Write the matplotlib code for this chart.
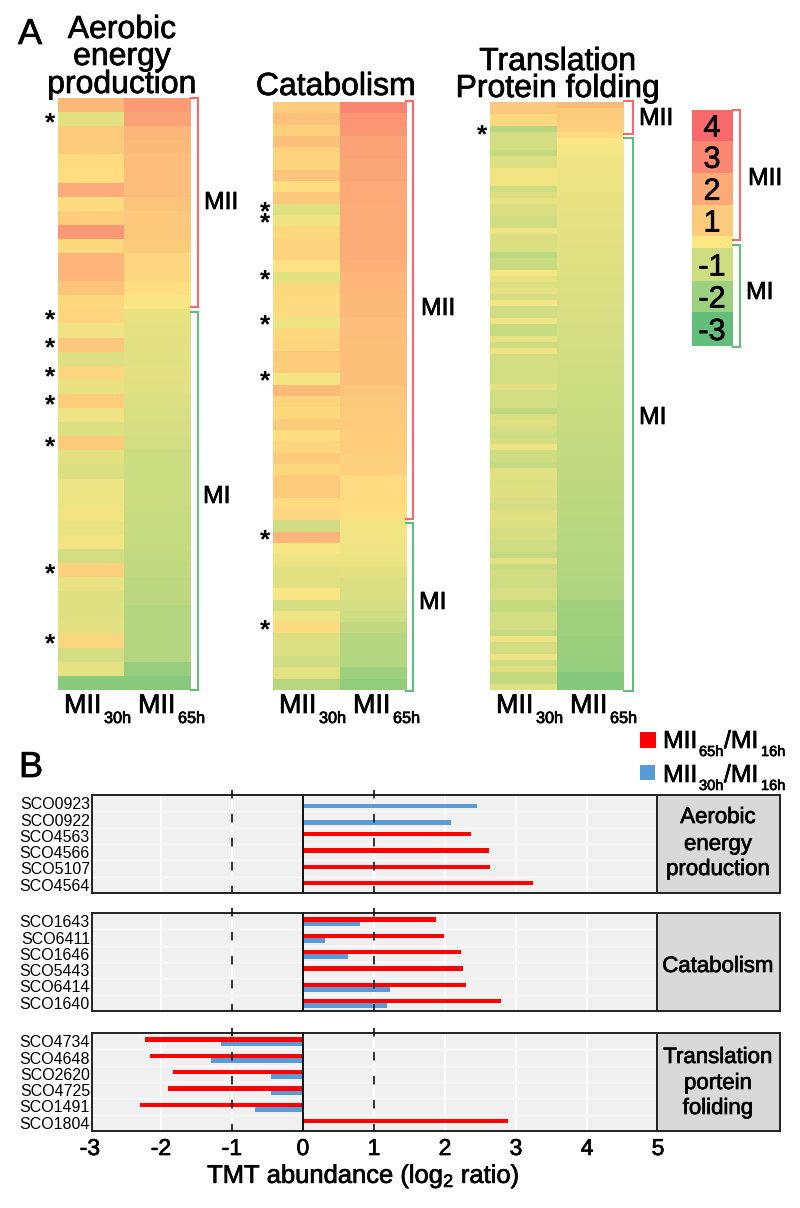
import numpy as np
from matplotlib import pyplot as plt
from matplotlib import patheffects
from matplotlib.colors import LinearSegmentedColormap

plt.rcParams['font.family'] = ['Liberation Sans', 'DejaVu Sans']
plt.rcParams['axes.unicode_minus'] = False
plt.rcParams['mathtext.default'] = 'regular'

# heatmap values, top row first
aero_30h = [1.5, -0.55, 1.0, 1.0, 0.4, 0.3, 1.9, 0.4, 0.9, 2.5, 0.5, 1.7, 1.7, 1.2,
            0.5, 0.6, -0.3, 1.1, -0.7, 0.6, -0.45, 0.9, -0.3, -0.7, 1.0, -0.55,
            -0.75, -0.4, -0.4, -0.25, -0.45, -0.25, -0.9, 0.8, -0.45, -0.65, -0.65,
            -0.55, 0.6, -0.9, -0.5, -2.35]
aero_65h = [2.4, 2.2, 1.6, 1.5, 1.4, 1.4, 1.4, 1.2, 1.1, 1.1, 1.0, 0.6, 0.6, 0.3,
            -0.15, -0.45, -0.5, -0.6, -0.6, -0.55, -0.6, -0.7, -0.8, -0.85, -0.9,
            -1.05, -1.05, -1.05, -1.05, -1.1, -1.15, -1.15, -1.2, -1.3, -1.4, -1.4,
            -1.55, -1.55, -1.55, -1.55, -2.1, -2.35]
cata_30h = [0.9, 1.3, 0.8, 1.3, 0.7, 0.7, 1.2, 0.3, 1.1, -0.65, -0.3, 0.5, 0.7, 0.7,
            0.2, -0.55, 0.5, 0.4, 0.4, -0.35, 0.5, 0.6, 1.0, 0.9, -0.25, 1.5, 0.7,
            0.5, 1.0, 0.3, 0.6, 1.0, 0.5, 1.0, 1.0, 0.4, 0.6, -0.95, 1.6, -0.15,
            -0.35, -0.6, -0.6, -0.15, -0.85, -0.3, 0.4, -0.7, -0.7, -0.95, -0.55, -1.5]
cata_65h = [3.0, 2.6, 2.5, 2.2, 2.2, 2.1, 2.1, 2.0, 2.0, 1.9, 1.9, 1.9, 1.9, 1.9, 1.8,
            1.6, 1.6, 1.5, 1.5, 1.4, 1.4, 1.3, 1.3, 1.3, 1.3, 1.2, 1.1, 1.0, 1.0, 0.9,
            0.9, 0.8, 0.8, 0.4, 0.4, 0.4, 0.3, -0.25, -0.25, -0.3, -0.4, -0.55, -0.75,
            -0.75, -0.85, -1.0, -1.3, -1.55, -1.55, -1.55, -2.0, -2.2]
trans_30h = [1.1, 1.1, 0.5, 0.5, -1.4, -0.9, -0.9, -0.9, -1.25, -0.7, -0.7, -0.25,
             -0.25, -0.25, -1.0, -0.75, -0.45, -0.75, -0.75, -0.95, -0.95, -0.3, -0.75,
             -0.75, -0.75, -1.4, -1.1, -1.1, -0.2, -0.45, -0.75, -0.45, -0.85, -0.2,
             -0.95, -0.95, -0.3, -1.15, -1.15, -0.45, -1.0, -0.3, -0.9, -0.9, -0.9,
             -0.9, -0.9, -0.55, -0.9, -0.9, -0.9, -1.35, -0.75, -0.65, -0.85, -1.0,
             -0.85, -0.3, -1.0, -1.0, -1.25, -0.6, -0.6, -0.7, -0.65, -0.65, -0.8,
             -0.9, -0.65, -0.6, -0.7, -0.9, -0.8, -1.0, -0.9, -1.2, -0.55, -1.1,
             -0.9, -1.0, -1.0, -0.8, -0.8, -1.1, -1.2, -0.9, -0.9, -0.9, -1.2,
             -0.3, -0.9, -0.9, -0.3, -1.0, -0.65, -1.2, -1.2, -0.65]
trans_65h = [1.5, 1.0, 1.0, 0.9, 0.8, 0.4, -0.05, -0.1, -0.2, -0.3, -0.3, -0.35, -0.35,
             -0.4, -0.4, -0.45, -0.45, -0.45, -0.5, -0.5, -0.5, -0.55, -0.55, -0.55,
             -0.6, -0.6, -0.6, -0.65, -0.65, -0.7, -0.7, -0.7, -0.75, -0.75, -0.8,
             -0.8, -0.8, -0.85, -0.85, -0.9, -0.9, -0.95, -0.95, -0.95, -1.0, -1.0,
             -1.0, -1.05, -1.05, -1.05, -1.1, -1.1, -1.1, -1.15, -1.15, -1.15, -1.2,
             -1.2, -1.25, -1.25, -1.3, -1.3, -1.3, -1.35, -1.35, -1.35, -1.4, -1.4,
             -1.4, -1.45, -1.45, -1.45, -1.5, -1.5, -1.5, -1.55, -1.55, -1.55, -1.6,
             -1.6, -1.65, -1.65, -1.7, -1.95, -1.95, -2.0, -2.0, -2.0, -2.0, -2.05,
             -2.05, -2.05, -2.1, -2.1, -2.1, -2.4, -2.4, -2.4]

aero_stars = [1, 15, 17, 19, 21, 24, 33, 38]
cata_stars = [9, 10, 15, 19, 24, 38, 46]
trans_stars = [5]

legend_values = [4, 3, 2, 1, 0, -1, -2, -3]
legend_labels = ['4', '3', '2', '1', '', '-1', '-2', '-3']

# panel B
genes_aero = ['SCO0923', 'SCO0922', 'SCO4563', 'SCO4566', 'SCO5107', 'SCO4564']
red_aero = [0, 0, 2.36, 2.62, 2.64, 3.24]
blue_aero = [2.455, 2.085, 0, 0, 0, 0]
genes_cata = ['SCO1643', 'SCO6411', 'SCO1646', 'SCO5443', 'SCO6414', 'SCO1640']
red_cata = [1.87, 1.99, 2.23, 2.25, 2.30, 2.79]
blue_cata = [0.81, 0.31, 0.63, 0, 1.225, 1.19]
genes_trans = ['SCO4734', 'SCO4648', 'SCO2620', 'SCO4725', 'SCO1491', 'SCO1804']
red_trans = [-2.22, -2.16, -1.83, -1.90, -2.30, 2.89]
blue_trans = [-1.155, -1.29, -0.45, -0.45, -0.67, 0]
x_ticks = [-3, -2, -1, 0, 1, 2, 3, 4, 5]

W, H = 800, 1208
RED = '#F8696B'
GREEN = '#63BE7B'
heat_cmap = LinearSegmentedColormap.from_list('heat', [
    (0 / 7, '#63BE7B'), (1 / 7, '#9FD17F'), (2 / 7, '#CFDD82'), (3 / 7, '#FFE784'),
    (4 / 7, '#FDCB7C'), (5 / 7, '#FCAA78'), (6 / 7, '#FA8771'), (7 / 7, '#F8696B')])
# the original type is a bit heavier than plain Liberation Sans
heavy = [patheffects.withStroke(linewidth=0.5, foreground='black')]

fig = plt.figure(figsize=(W / 100, H / 100), dpi=100)


def px_axes(x0, y0, x1, y1):
    return fig.add_axes([x0 / W, 1 - y1 / H, (x1 - x0) / W, (y1 - y0) / H])


over = fig.add_axes([0, 0, 1, 1], zorder=10)
over.set_xlim(0, W)
over.set_ylim(H, 0)
over.axis('off')


def txt(x, y, s, size, ha='left'):
    over.text(x, y, s, fontsize=size, ha=ha, va='baseline', color='black',
              path_effects=heavy)


def bracket(x0, x1, y0, y1, color):
    over.plot([x0, x1, x1, x0], [y0, y0, y1, y1], color=color, lw=1.5,
              solid_joinstyle='miter')


def heatmap(col1, col2, stars, x0, xm, x1, y0, y1):
    ax = px_axes(x0, y0, x1, y1)
    ax.imshow(np.array([col1, col2]).T, cmap=heat_cmap, vmin=-3, vmax=4,
              aspect='auto', interpolation='nearest')
    ax.axis('off')
    for row in stars:
        ax.annotate('*', (0, row + 0.5), xycoords=('axes fraction', 'data'),
                    xytext=(-8, -4), textcoords='offset pixels', ha='center',
                    va='baseline', fontsize=19, fontweight='bold')
    txt(x0 + 6, 713, 'MII', 19.4)
    txt(x0 + 46, 723, '30h', 11.7)
    txt(x0 + 80, 713, 'MII', 19.4)
    txt(x0 + 120, 723, '65h', 11.7)


heatmap(aero_30h, aero_65h, aero_stars, 58, 124, 191, 98, 690)
heatmap(cata_30h, cata_65h, cata_stars, 273, 339, 406, 102, 690)
heatmap(trans_30h, trans_65h, trans_stars, 490, 556, 624, 102, 690)

txt(18, 44, 'A', 26)
txt(19, 777, 'B', 26)
txt(122, 38, 'Aerobic', 23, ha='center')
txt(122, 65, 'energy', 23, ha='center')
txt(122, 93, 'production', 23, ha='center')
txt(336, 95, 'Catabolism', 23, ha='center')
txt(558, 70, 'Translation', 23, ha='center')
txt(558, 97, 'Protein folding', 23, ha='center')

bracket(191, 198, 98, 307, RED)
bracket(191, 198, 312, 690, GREEN)
bracket(406, 413, 101, 519, RED)
bracket(406, 413, 523, 691, GREEN)
bracket(624, 633, 101, 134, RED)
bracket(624, 633, 138, 691, GREEN)
bracket(733, 740, 110, 240, RED)
bracket(733, 740, 245, 347, GREEN)
txt(204, 209, 'MII', 17.8)
txt(203, 503, 'MI', 17.8)
txt(421, 315, 'MII', 17.8)
txt(419, 609, 'MI', 17.8)
txt(639, 125, 'MII', 17.8)
txt(639, 424, 'MI', 17.8)
txt(748, 185, 'MII', 17.8)
txt(746, 299, 'MI', 17.8)

# colour key, its steps are not all the same height
key_edges = [110, 141, 172.5, 205, 236, 248, 281, 312, 346]
over.pcolormesh([692, 733], key_edges, np.array(legend_values).reshape(-1, 1),
                cmap=heat_cmap, vmin=-3, vmax=4)
over.set_xlim(0, W)
over.set_ylim(H, 0)
for i, lab in enumerate(legend_labels):
    mid = (key_edges[i] + key_edges[i + 1]) / 2
    txt(712, mid + 11, lab, 22, ha='center')

# panel B legend
over.add_patch(plt.Rectangle((640, 732), 16, 16, color='#FF0000', lw=0))
over.add_patch(plt.Rectangle((640, 765), 15, 15, color='#5B9BD5', lw=0))
for base, sub in [(748, '65h'), (782, '30h')]:
    txt(663, base, 'MII', 17.8)
    txt(699, base + 8, sub, 10.5)
    txt(724, base, '/MI', 17.8)
    txt(761, base + 8, '16h', 10.5)


def bar_panel(genes, red, blue, y0, y1):
    ax = px_axes(92, y0, 657, y1)
    ax.set_facecolor('#F0F0F0')
    ys = np.arange(len(genes))
    ax.set_xlim(-2.97, 4.986)
    ax.set_ylim(len(genes) - 0.5, -0.5)
    ax.set_xticks([-2, -1, 0, 1, 2, 3, 4])
    ax.set_yticks(ys - 0.5, minor=True)
    ax.set_yticks(ys)
    ax.set_yticklabels(genes, fontsize=11.5)
    ax.grid(True, axis='x', color='white', lw=1.4)
    ax.grid(True, axis='y', which='minor', color='white', lw=1)
    ax.set_axisbelow(True)
    ax.tick_params(which='both', length=0, labelbottom=False, pad=1.5)
    ax.barh(ys - 0.1, red, height=0.25, color='#FF0000', zorder=3)
    ax.barh(ys + 0.17, blue, height=0.28, color='#5B9BD5', zorder=2.5)
    ax.axvline(0, color='#111111', lw=1.4, zorder=4)
    for v in (-1, 1):
        ax.axvline(v, ymin=1.055, ymax=0, color='#111111', lw=1.2, clip_on=False,
                   linestyle=(0, (5.1, 9.3)), zorder=4)
    for sp in ax.spines.values():
        sp.set_linewidth(1.4)
        sp.set_color('#222222')
    strip = px_axes(657, y0, 780, y1)
    strip.set_facecolor('#D9D9D9')
    strip.set_xticks([])
    strip.set_yticks([])
    for sp in strip.spines.values():
        sp.set_linewidth(1.4)
        sp.set_color('#222222')
    return ax


bar_panel(genes_aero, red_aero, blue_aero, 795, 893)
bar_panel(genes_cata, red_cata, blue_cata, 913, 1011)
ax3 = bar_panel(genes_trans, red_trans, blue_trans, 1033, 1131)

for t in x_ticks:
    ax3.annotate(str(t), (t, 0), xycoords=('data', 'axes fraction'), xytext=(0, -24),
                 textcoords='offset pixels', ha='center', va='baseline', fontsize=16.5,
                 path_effects=heavy)

txt(718, 823, 'Aerobic', 16, ha='center')
txt(718, 850, 'energy', 16, ha='center')
txt(718, 875, 'production', 16, ha='center')
txt(718, 972, 'Catabolism', 16, ha='center')
txt(718, 1063, 'Translation', 16, ha='center')
txt(718, 1089, 'portein', 16, ha='center')
txt(718, 1114, 'foliding', 16, ha='center')
txt(363, 1183, 'TMT abundance (log$_2$ ratio)', 18.4, ha='center')

fig.savefig('out.png', dpi=100)
